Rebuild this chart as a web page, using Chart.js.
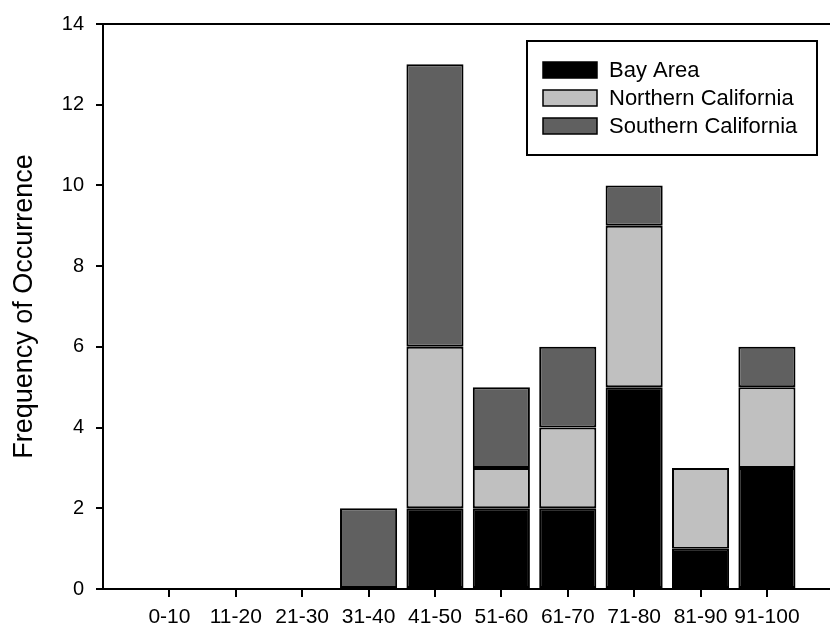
<!DOCTYPE html>
<html>
<head>
<meta charset="utf-8">
<script src="https://cdn.jsdelivr.net/npm/chart.js@4/dist/chart.umd.min.js"></script>
<style>
    html, body { margin: 0; padding: 0; background: #fff; }
    #wrap { width: 830px; height: 632px; position: relative; }
</style>
</head>
<body>
<div id="wrap"><canvas id="chart"></canvas></div>
<script>
// Données
const categories = ['0-10', '11-20', '21-30', '31-40', '41-50', '51-60', '61-70', '71-80', '81-90', '91-100'];
const bayArea = [0, 0, 0, 0, 2, 2, 2, 5, 1, 3];
const northernCalifornia = [0, 0, 0, 0, 4, 1, 2, 4, 2, 2];
const southernCalifornia = [0, 0, 0, 2, 7, 2, 2, 1, 0, 1];
const yTicks = [0, 2, 4, 6, 8, 10, 12, 14];

const FONT = "'Liberation Sans', Arial, sans-serif";

// Position x = rang de la classe (1..10) sur un axe linéaire
function toPoints(values) {
    return values.map((v, i) => ({ x: i + 1, y: v }));
}

// Légende encadrée dessinée dans la zone du graphique
const boxLegend = {
    id: 'boxLegend',
    afterDraw(chart) {
        const ctx = chart.ctx;
        const area = chart.chartArea;
        const w = 290, h = 114;
        const left = area.right - 13 - w;
        const top = area.top + 17;
        ctx.save();
        ctx.fillStyle = '#fff';
        ctx.fillRect(left, top, w, h);
        ctx.lineWidth = 2;
        ctx.strokeStyle = '#000';
        ctx.strokeRect(left, top, w, h);
        ctx.font = '22px ' + FONT;
        ctx.textBaseline = 'middle';
        chart.data.datasets.forEach((ds, i) => {
            const cy = top + 29 + i * 28;
            ctx.fillStyle = ds.backgroundColor;
            ctx.fillRect(left + 16, cy - 8, 54, 16);
            ctx.lineWidth = 1.5;
            ctx.strokeStyle = '#000';
            ctx.strokeRect(left + 16, cy - 8, 54, 16);
            ctx.fillStyle = '#000';
            ctx.fillText(ds.label, left + 82, cy + 1);
        });
        ctx.restore();
    }
};

const ctx = document.getElementById('chart').getContext('2d');
new Chart(ctx, {
    type: 'bar',
    data: {
        datasets: [
            { label: 'Bay Area', data: toPoints(bayArea), backgroundColor: '#000000' },
            { label: 'Northern California', data: toPoints(northernCalifornia), backgroundColor: '#c0c0c0' },
            { label: 'Southern California', data: toPoints(southernCalifornia), backgroundColor: '#606060' }
        ]
    },
    options: {
        responsive: true,
        maintainAspectRatio: false,
        animation: false,
        layout: { padding: { top: 19, right: 0, bottom: 0, left: 0 } },
        datasets: {
            bar: {
                borderColor: '#000',
                borderWidth: 2,
                borderSkipped: false,
                inflateAmount: 0,
                categoryPercentage: 1,
                barPercentage: 0.86
            }
        },
        plugins: {
            legend: { display: false },
            tooltip: { enabled: false }
        },
        scales: {
            x: {
                type: 'linear',
                stacked: true,
                offset: false,
                min: 0,
                max: 10.95,
                afterFit(scale) {
                    scale.height = 43;
                    scale.paddingLeft = 0;
                    scale.paddingRight = 0;
                },
                afterBuildTicks(scale) {
                    scale.ticks = [{ value: 0 }].concat(categories.map((c, i) => ({ value: i + 1 })));
                },
                ticks: {
                    autoSkip: false,
                    maxRotation: 0,
                    padding: 8,
                    color: '#000',
                    font: { family: FONT, size: 21 },
                    callback: (v) => categories[v - 1] || ''
                },
                grid: {
                    offset: false,
                    drawOnChartArea: false,
                    tickLength: 8,
                    lineWidth: 2,
                    tickColor: (c) => (c.tick && c.tick.value >= 1 ? '#000' : 'rgba(0,0,0,0)')
                },
                border: { display: true, color: '#000', width: 2 }
            },
            y: {
                stacked: true,
                min: 0,
                max: 14,
                afterFit(scale) {
                    scale.width = 103;
                },
                afterBuildTicks(scale) {
                    scale.ticks = yTicks.map(v => ({ value: v }));
                },
                ticks: {
                    padding: 12,
                    color: '#000',
                    font: { family: FONT, size: 20 }
                },
                grid: {
                    drawOnChartArea: true,
                    tickLength: 7,
                    lineWidth: 2,
                    color: (c) => (c.tick && c.tick.value === 14 ? '#000' : 'rgba(0,0,0,0)'),
                    tickColor: '#000'
                },
                border: { display: true, color: '#000', width: 2 },
                title: {
                    display: true,
                    text: 'Frequency of Occurrence',
                    color: '#000',
                    font: { family: FONT, size: 27 },
                    padding: { top: 8, bottom: 0 }
                }
            }
        }
    },
    plugins: [boxLegend]
});
</script>
</body>
</html>
